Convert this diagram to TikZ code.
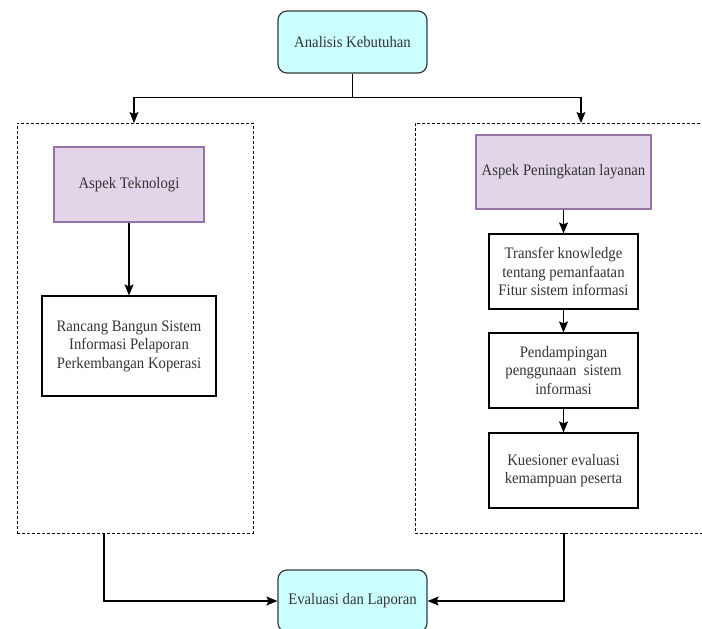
\documentclass[tikz,border=0pt]{standalone}
\usepackage{fontspec}
\setmainfont{Liberation Serif}[FakeStretch=0.92]
\usetikzlibrary{arrows.meta,positioning}
\definecolor{cyanfill}{HTML}{CCFFFF}
\definecolor{cyanline}{HTML}{36393D}
\definecolor{purfill}{HTML}{E1D5E7}
\definecolor{purline}{HTML}{9673A6}
\definecolor{txt}{HTML}{333333}
\begin{document}
\begin{tikzpicture}[x=1pt,y=-1pt,
  every node/.style={font=\fontsize{16}{18.5}\selectfont, text=txt, align=center, inner sep=2pt},
  cyanbox/.style={draw=cyanline, fill=cyanfill, rounded corners=9pt, line width=1.2pt, minimum width=149pt, minimum height=62pt},
  purbox/.style={draw=purline, fill=purfill, line width=1.2pt, minimum height=75pt},
  plainbox/.style={draw=black, fill=white, line width=1.2pt, minimum width=149pt, minimum height=75pt},
  dbox/.style={draw=black, dash pattern=on 3pt off 2pt, line width=0.9pt},
  arr/.style={draw=black, line width=1.2pt, -{Stealth[length=11pt,width=9pt,inset=2pt]}},
  ln/.style={draw=black, line width=1.2pt}]
\useasboundingbox (0,0) rectangle (702,629);
% dashed groups
\node[dbox, minimum width=236pt, minimum height=410pt] (L) at (135,328) {};
\node[dbox, minimum width=295pt, minimum height=410pt] (R) at (562.5,328) {};
% main nodes
\node[cyanbox] (A) at (352.5,42) {Analisis Kebutuhan};
\node[purbox, minimum width=150pt] (T) at (129,184.5) {Aspek Teknologi};
\node[plainbox, minimum width=174pt, minimum height=100pt] (RB) at (129,346) {Rancang Bangun Sistem\\Informasi Pelaporan\\Perkembangan Koperasi};
\node[purbox, minimum width=175pt, minimum height=74pt] (P) at (563.5,172) {Aspek Peningkatan layanan};
\node[plainbox] (TK) at (563.5,271.5) {Transfer knowledge\\tentang pemanfaatan\\Fitur sistem informasi};
\node[plainbox] (PD) at (563.5,370.5) {Pendampingan\\penggunaan\ \ sistem\\informasi};
\node[plainbox] (KE) at (563.5,470.5) {Kuesioner evaluasi\\kemampuan peserta};
\node[cyanbox] (E) at (352.5,601) {Evaluasi dan Laporan};
% helper coordinates
\coordinate (lt) at (134,123);
\coordinate (rt) at (581,123);
\coordinate (lb) at (104,533);
\coordinate (rb) at (564,533);
% connectors
\draw[arr] (A.south) -- ++(0,24) -| (lt);
\draw[arr] (A.south) -- ++(0,24) -| (rt);
\draw[arr] (T) -- (RB);
\draw[arr] (P) -- (TK);
\draw[arr] (TK) -- (PD);
\draw[arr] (PD) -- (KE);
\draw[arr] (lb) |- (E.west);
\draw[arr] (rb) |- (E.east);
\end{tikzpicture}
\end{document}
